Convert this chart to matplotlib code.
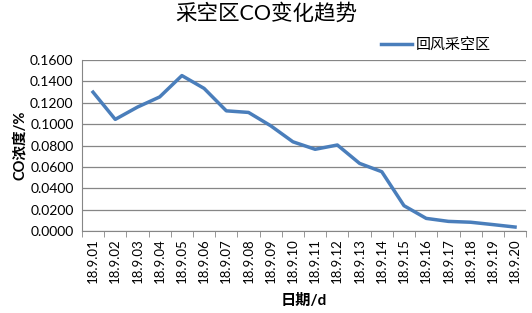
import matplotlib
matplotlib.use("Agg")
import matplotlib.pyplot as plt

plt.rcParams['font.family'] = ['Lato', 'Noto Sans CJK SC', 'DejaVu Sans']

dates = ['18.9.01', '18.9.02', '18.9.03', '18.9.04', '18.9.05', '18.9.06', '18.9.07',
         '18.9.08', '18.9.09', '18.9.10', '18.9.11', '18.9.12', '18.9.13', '18.9.14',
         '18.9.15', '18.9.16', '18.9.17', '18.9.18', '18.9.19', '18.9.20']
co = [0.1300, 0.1045, 0.1160, 0.1255, 0.1455, 0.1335, 0.1125, 0.1110, 0.0985, 0.0835,
      0.0765, 0.0805, 0.0633, 0.0555, 0.0237, 0.0118, 0.0090, 0.0082, 0.0060, 0.0037]
yticks = [0.0, 0.02, 0.04, 0.06, 0.08, 0.10, 0.12, 0.14, 0.16]

fig = plt.figure(figsize=(5.32, 3.13), dpi=100)
ax = fig.add_axes([0.154, 0.262, 0.835, 0.546])

x = list(range(len(dates)))
ax.plot(x, co, color='#4A7EBB', lw=2.5, label='回风采空区', solid_joinstyle='round')

ax.set_xlim(-0.5, len(dates) - 0.5)
ax.set_ylim(0, 0.16)
ax.set_yticks(yticks)
ax.set_yticklabels(['%.4f' % v for v in yticks], fontsize=10)
ax.set_xticks(x)
ax.set_xticklabels(dates, rotation=90, fontsize=9.5)
ax.set_xticks([i - 0.5 for i in range(len(dates) + 1)], minor=True)
ax.tick_params(axis='x', which='major', length=0, pad=5)
ax.tick_params(axis='x', which='minor', length=4, color='#868686', direction='out')
ax.tick_params(axis='y', length=0, pad=6)

ax.grid(axis='y', color='#868686', lw=0.9)
ax.set_axisbelow(True)
for s in ['top', 'right']:
    ax.spines[s].set_visible(False)
ax.spines['left'].set_color('#868686')
ax.spines['bottom'].set_color('#868686')

ax.set_ylabel('CO浓度/%', fontsize=10.5, fontweight='bold', labelpad=2)
ax.set_xlabel('日期/d', fontsize=11, fontweight='bold', labelpad=8)
fig.suptitle('采空区CO变化趋势', fontsize=15.5, y=0.99)

fig.legend(loc='center left', bbox_to_anchor=(0.69, 0.855), frameon=False,
           fontsize=10.8, handlelength=2.1, handletextpad=0.25)

fig.savefig('out.png', dpi=100)
